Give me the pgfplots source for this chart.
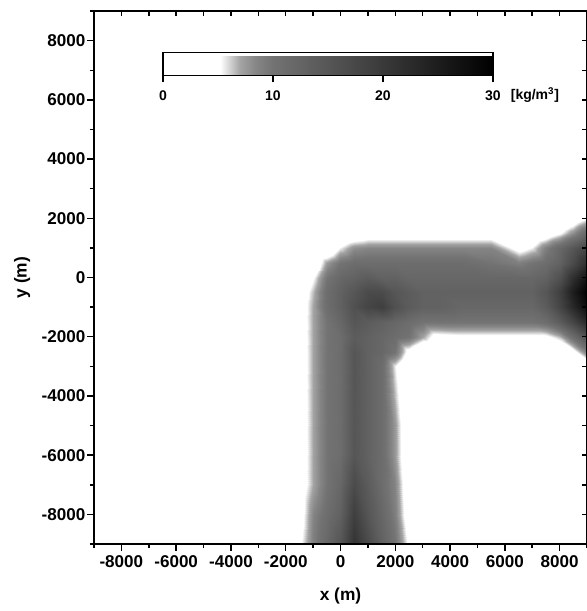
\documentclass[border=0pt]{standalone}
\usepackage{pgfplots}
\pgfplotsset{compat=1.18}
\usepackage{fontspec}
\setmainfont{Liberation Sans}
\pgfplotsset{
  colormap={dens}{color(0pt)=(white) color(5.2pt)=(white) color(7pt)=(black!36) color(8.5pt)=(black!48) color(10pt)=(black!55) color(30pt)=(black)}
}
\begin{document}
\begin{tikzpicture}
\begin{axis}[
  at={(0pt,0pt)}, anchor=south west,
  scale only axis, width=369.75pt, height=399.75pt,
  xmin=-9000, xmax=9000, ymin=-9000, ymax=9000,
  colormap name=dens,
  point meta min=0, point meta max=30,
  axis line style={line width=1.2pt},
  xtick={-8000,-6000,...,8000}, ytick={-8000,-6000,...,8000},
  minor xtick={-9000,-7000,...,9000}, minor ytick={-9000,-7000,...,9000},
  tick pos=left, tick align=outside,
  major tick length=5pt, minor tick length=3pt,
  every tick/.style={line width=1.1pt, black},
  every minor tick/.style={line width=1.1pt, black},
  scaled ticks=false,
  /pgf/number format/assume math mode=true,
  /pgf/number format/set thousands separator={},
  tick label style={font=\fontsize{12.8}{14}\selectfont\bfseries},
  yticklabel style={xshift=2pt},
  label style={font=\fontsize{13}{15}\selectfont\bfseries},
  xlabel={x (m)}, ylabel={y (m)},
  xlabel style={at={(axis description cs:0.5,-0.098)}, anchor=center},
  ylabel style={at={(axis description cs:-0.146,0.5)}, anchor=center},
  colorbar horizontal,
  colorbar style={
    at={(parent axis.north west)}, anchor=north west,
    xshift=51.75pt, yshift=-22.5pt,
    width=247.5pt, height=17.25pt,
    xtick={0,10,20,30}, ytick=\empty,
    tick pos=left, tick align=outside,
    major tick length=5pt,
    every tick/.style={line width=1pt, black},
    axis line style={line width=0.8pt},
    xticklabel style={font=\fontsize{10.5}{12}\selectfont\bfseries, yshift=-3pt},
    /pgf/number format/assume math mode=true,
  },
]
\addplot[surf, shader=interp, mesh/cols=20, point meta=explicit] table[x=x, y=y, meta=z, row sep=\\] {
x y z\\
-2000 -9000 0.5\\ -1500 -9000 4.5\\ -1000 -9000 9\\ -500 -9000 12\\ 0 -9000 15\\ 500 -9000 21\\ 1000 -9000 17\\ 1500 -9000 13\\ 2000 -9000 10\\ 2500 -9000 4.5\\ 3000 -9000 0.5\\ 3500 -9000 0\\ 4500 -9000 0\\ 5500 -9000 0\\ 6500 -9000 0\\ 7000 -9000 0\\ 7500 -9000 0\\ 8000 -9000 0\\ 8500 -9000 0\\ 9000 -9000 0\\
-2000 -8000 0\\ -1500 -8000 3.5\\ -1000 -8000 8.5\\ -500 -8000 11\\ 0 -8000 13\\ 500 -8000 19\\ 1000 -8000 15\\ 1500 -8000 12\\ 2000 -8000 9\\ 2500 -8000 3\\ 3000 -8000 0\\ 3500 -8000 0\\ 4500 -8000 0\\ 5500 -8000 0\\ 6500 -8000 0\\ 7000 -8000 0\\ 7500 -8000 0\\ 8000 -8000 0\\ 8500 -8000 0\\ 9000 -8000 0\\
-2000 -7000 0\\ -1500 -7000 3\\ -1000 -7000 7\\ -500 -7000 10\\ 0 -7000 12\\ 500 -7000 17\\ 1000 -7000 14\\ 1500 -7000 11\\ 2000 -7000 8.5\\ 2500 -7000 2.5\\ 3000 -7000 0\\ 3500 -7000 0\\ 4500 -7000 0\\ 5500 -7000 0\\ 6500 -7000 0\\ 7000 -7000 0\\ 7500 -7000 0\\ 8000 -7000 0\\ 8500 -7000 0\\ 9000 -7000 0\\
-2000 -6000 0\\ -1500 -6000 3\\ -1000 -6000 7\\ -500 -6000 10\\ 0 -6000 11\\ 500 -6000 15\\ 1000 -6000 13\\ 1500 -6000 11\\ 2000 -6000 7.5\\ 2500 -6000 2\\ 3000 -6000 0\\ 3500 -6000 0\\ 4500 -6000 0\\ 5500 -6000 0\\ 6500 -6000 0\\ 7000 -6000 0\\ 7500 -6000 0\\ 8000 -6000 0\\ 8500 -6000 0\\ 9000 -6000 0\\
-2000 -5000 0\\ -1500 -5000 3\\ -1000 -5000 7\\ -500 -5000 10\\ 0 -5000 11\\ 500 -5000 15\\ 1000 -5000 13\\ 1500 -5000 11\\ 2000 -5000 7.5\\ 2500 -5000 2\\ 3000 -5000 0\\ 3500 -5000 0\\ 4500 -5000 0\\ 5500 -5000 0\\ 6500 -5000 0\\ 7000 -5000 0\\ 7500 -5000 0\\ 8000 -5000 0\\ 8500 -5000 0\\ 9000 -5000 0\\
-2000 -4000 0\\ -1500 -4000 3\\ -1000 -4000 7\\ -500 -4000 10\\ 0 -4000 11\\ 500 -4000 15\\ 1000 -4000 13\\ 1500 -4000 11\\ 2000 -4000 6.5\\ 2500 -4000 1.5\\ 3000 -4000 0\\ 3500 -4000 0\\ 4500 -4000 0\\ 5500 -4000 0\\ 6500 -4000 0\\ 7000 -4000 0\\ 7500 -4000 0\\ 8000 -4000 0\\ 8500 -4000 0\\ 9000 -4000 0\\
-2000 -3500 0\\ -1500 -3500 3\\ -1000 -3500 7\\ -500 -3500 10\\ 0 -3500 11\\ 500 -3500 15\\ 1000 -3500 13\\ 1500 -3500 11\\ 2000 -3500 6\\ 2500 -3500 1\\ 3000 -3500 0\\ 3500 -3500 0\\ 4500 -3500 0\\ 5500 -3500 0\\ 6500 -3500 0\\ 7000 -3500 0\\ 7500 -3500 0\\ 8000 -3500 0\\ 8500 -3500 0\\ 9000 -3500 0\\
-2000 -3000 0\\ -1500 -3000 3\\ -1000 -3000 7\\ -500 -3000 10\\ 0 -3000 11\\ 500 -3000 15\\ 1000 -3000 13\\ 1500 -3000 11\\ 2000 -3000 5.5\\ 2500 -3000 1\\ 3000 -3000 0\\ 3500 -3000 0\\ 4500 -3000 0\\ 5500 -3000 0\\ 6500 -3000 0\\ 7000 -3000 0\\ 7500 -3000 0\\ 8000 -3000 0\\ 8500 -3000 0.5\\ 9000 -3000 2\\
-2000 -2500 0\\ -1500 -2500 3\\ -1000 -2500 7\\ -500 -2500 10\\ 0 -2500 11\\ 500 -2500 15\\ 1000 -2500 13\\ 1500 -2500 12\\ 2000 -2500 10\\ 2500 -2500 4\\ 3000 -2500 0.5\\ 3500 -2500 0.5\\ 4500 -2500 0.5\\ 5500 -2500 0.5\\ 6500 -2500 0.5\\ 7000 -2500 0.5\\ 7500 -2500 0.5\\ 8000 -2500 1.5\\ 8500 -2500 4\\ 9000 -2500 9\\
-2000 -2000 0\\ -1500 -2000 3\\ -1000 -2000 7\\ -500 -2000 10\\ 0 -2000 11\\ 500 -2000 14\\ 1000 -2000 13\\ 1500 -2000 12\\ 2000 -2000 11\\ 2500 -2000 10\\ 3000 -2000 7\\ 3500 -2000 4\\ 4500 -2000 4.5\\ 5500 -2000 4.5\\ 6500 -2000 4.5\\ 7000 -2000 4.5\\ 7500 -2000 4.5\\ 8000 -2000 6.5\\ 8500 -2000 11\\ 9000 -2000 16\\
-2000 -1500 0\\ -1500 -1500 3\\ -1000 -1500 7\\ -500 -1500 10\\ 0 -1500 12\\ 500 -1500 15\\ 1000 -1500 14\\ 1500 -1500 13\\ 2000 -1500 12\\ 2500 -1500 11\\ 3000 -1500 10\\ 3500 -1500 10\\ 4500 -1500 10\\ 5500 -1500 10\\ 6500 -1500 10\\ 7000 -1500 10\\ 7500 -1500 11\\ 8000 -1500 14\\ 8500 -1500 18\\ 9000 -1500 23\\
-2000 -1000 0\\ -1500 -1000 3\\ -1000 -1000 7\\ -500 -1000 11\\ 0 -1000 13\\ 500 -1000 16\\ 1000 -1000 18\\ 1500 -1000 19\\ 2000 -1000 16\\ 2500 -1000 14\\ 3000 -1000 13\\ 3500 -1000 13\\ 4500 -1000 12\\ 5500 -1000 12\\ 6500 -1000 12\\ 7000 -1000 12\\ 7500 -1000 14\\ 8000 -1000 18\\ 8500 -1000 23\\ 9000 -1000 28\\
-2000 -500 0\\ -1500 -500 2.5\\ -1000 -500 6.5\\ -500 -500 11\\ 0 -500 13\\ 500 -500 15\\ 1000 -500 17\\ 1500 -500 17\\ 2000 -500 15\\ 2500 -500 14\\ 3000 -500 13\\ 3500 -500 13\\ 4500 -500 13\\ 5500 -500 13\\ 6500 -500 13\\ 7000 -500 13\\ 7500 -500 15\\ 8000 -500 19\\ 8500 -500 25\\ 9000 -500 30\\
-2000 0 0\\ -1500 0 1\\ -1000 0 5\\ -500 0 10\\ 0 0 12\\ 500 0 13\\ 1000 0 14\\ 1500 0 13\\ 2000 0 13\\ 2500 0 12\\ 3000 0 12\\ 3500 0 12\\ 4500 0 12\\ 5500 0 12\\ 6500 0 12\\ 7000 0 12\\ 7500 0 13\\ 8000 0 16\\ 8500 0 22\\ 9000 0 27\\
-2000 500 0\\ -1500 500 0\\ -1000 500 2\\ -500 500 7.5\\ 0 500 10\\ 500 500 11\\ 1000 500 11\\ 1500 500 11\\ 2000 500 11\\ 2500 500 11\\ 3000 500 11\\ 3500 500 11\\ 4500 500 11\\ 5500 500 10\\ 6500 500 9\\ 7000 500 10\\ 7500 500 11\\ 8000 500 13\\ 8500 500 17\\ 9000 500 22\\
-2000 1000 0\\ -1500 1000 0\\ -1000 1000 0\\ -500 1000 1.5\\ 0 1000 5.5\\ 500 1000 8\\ 1000 1000 8.5\\ 1500 1000 8.5\\ 2000 1000 8.5\\ 2500 1000 8.5\\ 3000 1000 8.5\\ 3500 1000 8.5\\ 4500 1000 8.5\\ 5500 1000 8.5\\ 6500 1000 4\\ 7000 1000 5.5\\ 7500 1000 9\\ 8000 1000 12\\ 8500 1000 15\\ 9000 1000 18\\
-2000 1500 0\\ -1500 1500 0\\ -1000 1500 0\\ -500 1500 0\\ 0 1500 0.5\\ 500 1500 2\\ 1000 1500 3\\ 1500 1500 3\\ 2000 1500 3\\ 2500 1500 3\\ 3000 1500 3\\ 3500 1500 3\\ 4500 1500 3\\ 5500 1500 3\\ 6500 1500 0.5\\ 7000 1500 1\\ 7500 1500 3\\ 8000 1500 5\\ 8500 1500 8\\ 9000 1500 12\\
-2000 2000 0\\ -1500 2000 0\\ -1000 2000 0\\ -500 2000 0\\ 0 2000 0\\ 500 2000 0\\ 1000 2000 0\\ 1500 2000 0\\ 2000 2000 0\\ 2500 2000 0\\ 3000 2000 0\\ 3500 2000 0\\ 4500 2000 0\\ 5500 2000 0\\ 6500 2000 0\\ 7000 2000 0\\ 7500 2000 0\\ 8000 2000 0.5\\ 8500 2000 2.5\\ 9000 2000 5\\
-2000 2500 0\\ -1500 2500 0\\ -1000 2500 0\\ -500 2500 0\\ 0 2500 0\\ 500 2500 0\\ 1000 2500 0\\ 1500 2500 0\\ 2000 2500 0\\ 2500 2500 0\\ 3000 2500 0\\ 3500 2500 0\\ 4500 2500 0\\ 5500 2500 0\\ 6500 2500 0\\ 7000 2500 0\\ 7500 2500 0\\ 8000 2500 0\\ 8500 2500 0\\ 9000 2500 0.5\\
};
\node[anchor=west, font=\fontsize{10.5}{12}\selectfont\bfseries] at (rel axis cs:0.836,0.842) {[kg/m\textsuperscript{3}]};
\end{axis}
\begin{axis}[
  at={(0pt,0pt)}, anchor=south west,
  scale only axis, width=369.75pt, height=399.75pt,
  xmin=-9000, xmax=9000, ymin=-9000, ymax=9000,
  axis line style={line width=1.2pt},
  xtick={-9000,-8000,...,9000}, ytick={-9000,-8000,...,9000},
  xticklabels={}, yticklabels={},
  tick pos=right, tick align=inside,
  major tick length=3.75pt,
  every tick/.style={line width=1.1pt, black},
]
\end{axis}
\pgfresetboundingbox
\useasboundingbox (-70.5pt,-50.25pt) rectangle (369pt,408pt);
\end{tikzpicture}
\end{document}
